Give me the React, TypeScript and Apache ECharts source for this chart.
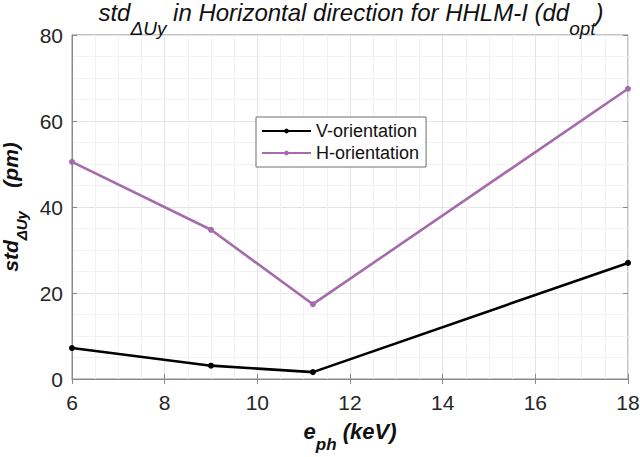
import React, { useEffect, useRef } from "react";
import * as echarts from "echarts";

const energies = [6, 9, 11.2, 18];
const vOrientation = [7.2, 3.1, 1.6, 27.0];
const hOrientation = [50.5, 34.7, 17.4, 67.5];
const seriesNames = ["V-orientation", "H-orientation"];
const xTicks = [6, 8, 10, 12, 14, 16, 18];
const yTicks = [0, 20, 40, 60, 80];

export default function App() {
  const ref = useRef<HTMLDivElement>(null);
  useEffect(() => {
    if (!ref.current) return;
    const chart = echarts.init(ref.current, null, { renderer: "svg" });
    const font = "Liberation Sans, Arial, Helvetica, sans-serif";
    const axisColor = "#8a8a8a";
    const gridLine = { show: true, lineStyle: { color: "#e4e4e4", width: 1 } };
    const minorGrid = { show: true, lineStyle: { color: "#f2f2f2", width: 1 } };
    const xRich = {
      b: { fontFamily: font, fontStyle: "italic", fontWeight: "bold", fontSize: 22, color: "#111", lineHeight: 24, verticalAlign: "top" },
      bs: { fontFamily: font, fontStyle: "italic", fontWeight: "bold", fontSize: 17, color: "#111", lineHeight: 33, verticalAlign: "bottom" },
    };
    const yRich = {
      b: { fontFamily: font, fontStyle: "italic", fontWeight: "bold", fontSize: 21, color: "#111", lineHeight: 22, verticalAlign: "top" },
      bs: { fontFamily: font, fontStyle: "italic", fontWeight: "bold", fontSize: 15, color: "#111", lineHeight: 29, verticalAlign: "bottom" },
    };
    const mirrorAxis = {
      axisLine: { show: false },
      axisTick: { show: true, inside: true, length: 5, lineStyle: { color: axisColor } },
      axisLabel: { show: false },
      splitLine: { show: false },
    };
    chart.setOption({
      animation: false,
      backgroundColor: "#ffffff",
      title: {
        text: "{i|std}{sub|ΔUy}{i| in Horizontal direction for HHLM-I (dd}{sub|opt}{i|)}",
        left: 351,
        textAlign: "center",
        top: 0,
        padding: 0,
        textStyle: {
          fontWeight: "normal",
          rich: {
            i: { fontFamily: font, fontStyle: "italic", fontWeight: "normal", fontSize: 24, color: "#111", lineHeight: 26, verticalAlign: "top" },
            sub: { fontFamily: font, fontStyle: "italic", fontWeight: "normal", fontSize: 19, color: "#111", lineHeight: 38, verticalAlign: "bottom" },
          },
        },
      },
      grid: {
        left: 72,
        right: 12,
        top: 35,
        bottom: 78,
        containLabel: false,
        outerBoundsMode: "none",
        show: true,
        borderColor: axisColor,
        borderWidth: 1,
        backgroundColor: "transparent",
      },
      legend: {
        left: 256,
        top: 117,
        orient: "vertical",
        data: seriesNames,
        backgroundColor: "#ffffff",
        borderColor: "#6e6e6e",
        borderWidth: 1,
        borderRadius: 0,
        padding: [4, 7, 4, 5],
        itemGap: 2,
        itemWidth: 49,
        itemHeight: 6,
        textStyle: { fontFamily: font, fontSize: 18, color: "#111", lineHeight: 20 },
      },
      xAxis: [
        {
          type: "value",
          min: 6,
          max: 18,
          interval: 2,
          name: "{b|e}{bs|ph}{b| (keV)}",
          nameLocation: "middle",
          nameGap: 41,
          nameTextStyle: { rich: xRich },
          axisLine: { show: true, onZero: false, lineStyle: { color: axisColor, width: 1 } },
          axisTick: { show: true, inside: true, length: 5, lineStyle: { color: axisColor } },
          axisLabel: { fontFamily: font, fontSize: 21, color: "#262626", margin: 13, formatter: (v: number) => (xTicks.includes(v) ? String(v) : "") },
          splitLine: gridLine,
          minorTick: { show: false, splitNumber: 4 },
          minorSplitLine: minorGrid,
        },
        { type: "value", position: "top", min: 6, max: 18, interval: 2, ...mirrorAxis },
      ],
      yAxis: [
        {
          type: "value",
          min: 0,
          max: 80,
          interval: 20,
          name: "{b|std}{bs|ΔUy}{b|    (pm)}",
          nameLocation: "middle",
          nameGap: 33,
          nameTextStyle: { rich: yRich },
          axisLine: { show: true, onZero: false, lineStyle: { color: axisColor, width: 1 } },
          axisTick: { show: true, inside: true, length: 5, lineStyle: { color: axisColor } },
          axisLabel: { fontFamily: font, fontSize: 21, color: "#262626", margin: 9, formatter: (v: number) => (yTicks.includes(v) ? String(v) : "") },
          splitLine: gridLine,
          minorTick: { show: false, splitNumber: 4 },
          minorSplitLine: minorGrid,
        },
        { type: "value", position: "right", min: 0, max: 80, interval: 20, ...mirrorAxis },
      ],
      series: [
        {
          name: seriesNames[0],
          type: "line",
          data: energies.map((e, i) => [e, vOrientation[i]]),
          color: "#000000",
          lineStyle: { width: 2.6, color: "#000000" },
          symbol: "circle",
          symbolSize: 6,
          itemStyle: { color: "#000000" },
          z: 3,
        },
        {
          name: seriesNames[1],
          type: "line",
          data: energies.map((e, i) => [e, hOrientation[i]]),
          color: "#a66bab",
          lineStyle: { width: 2.6, color: "#a66bab" },
          symbol: "circle",
          symbolSize: 6,
          itemStyle: { color: "#a66bab" },
          z: 3,
        },
      ],
    });
    return () => chart.dispose();
  }, []);
  return <div ref={ref} style={{ width: 640, height: 457, position: "absolute", left: 0, top: 0 }} />;
}
